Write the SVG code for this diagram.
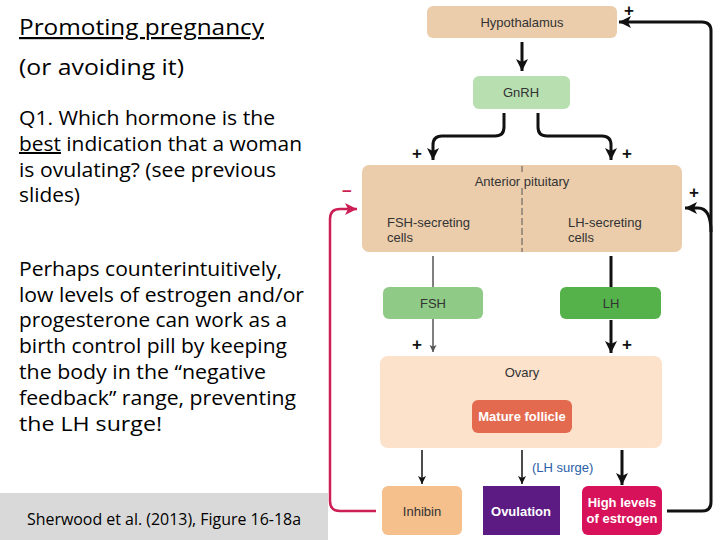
<svg xmlns="http://www.w3.org/2000/svg" width="720" height="540" viewBox="0 0 720 540">
<style>
.slide{font-family:"Open Sans","Liberation Sans",sans-serif;fill:#000}
.t{font-size:22px}
.b{font-size:20px}
.lbl{font-family:"Liberation Sans",Arial,sans-serif;font-size:13px;fill:#333;text-anchor:middle}
.lblw{font-family:"Liberation Sans",Arial,sans-serif;font-size:13px;font-weight:bold;fill:#fff;text-anchor:middle}
.plus{font-family:"Liberation Sans",Arial,sans-serif;font-size:17px;font-weight:bold;fill:#111;text-anchor:middle}
.thick{fill:none;stroke:#111;stroke-width:3}
.thin{fill:none;stroke:#111;stroke-width:1.5}
</style>
<defs>
<marker id="ah" markerUnits="userSpaceOnUse" markerWidth="14" markerHeight="14" refX="12" refY="6" orient="auto">
<path d="M0,0 L12,6 L0,12 L3,6 Z" fill="#111"/>
</marker>
<marker id="as" markerUnits="userSpaceOnUse" markerWidth="10" markerHeight="10" refX="8" refY="4" orient="auto">
<path d="M0,0 L8,4 L0,8 L2,4 Z" fill="#111"/>
</marker>
<marker id="asg" markerUnits="userSpaceOnUse" markerWidth="10" markerHeight="10" refX="7" refY="3.5" orient="auto">
<path d="M0,0 L7,3.5 L0,7 L1.5,3.5 Z" fill="#555"/>
</marker>
<marker id="ar" markerUnits="userSpaceOnUse" markerWidth="14" markerHeight="14" refX="12" refY="6" orient="auto">
<path d="M0,0 L12,6 L0,12 L3,6 Z" fill="#cc1f55"/>
</marker>
</defs>
<rect width="720" height="540" fill="#fff"/>

<g id="slide-text" class="slide">
<text class="t" x="19" y="35" textLength="245" lengthAdjust="spacingAndGlyphs" text-decoration="underline">Promoting pregnancy</text>
<text class="t" x="19" y="75" textLength="165" lengthAdjust="spacingAndGlyphs">(or avoiding it)</text>
<text class="b" x="19" y="125" textLength="256" lengthAdjust="spacingAndGlyphs">Q1. Which hormone is the</text>
<text class="b" x="19" y="151" textLength="283" lengthAdjust="spacingAndGlyphs"><tspan text-decoration="underline">best</tspan> indication that a woman</text>
<text class="b" x="19" y="177" textLength="257" lengthAdjust="spacingAndGlyphs">is ovulating? (see previous</text>
<text class="b" x="19" y="202" textLength="61" lengthAdjust="spacingAndGlyphs">slides)</text>
<text class="b" x="19" y="276" textLength="263" lengthAdjust="spacingAndGlyphs">Perhaps counterintuitively,</text>
<text class="b" x="19" y="302" textLength="285" lengthAdjust="spacingAndGlyphs">low levels of estrogen and/or</text>
<text class="b" x="19" y="327" textLength="268" lengthAdjust="spacingAndGlyphs">progesterone can work as a</text>
<text class="b" x="19" y="353" textLength="268" lengthAdjust="spacingAndGlyphs">birth control pill by keeping</text>
<text class="b" x="19" y="379" textLength="247" lengthAdjust="spacingAndGlyphs">the body in the “negative</text>
<text class="b" x="19" y="405" textLength="277" lengthAdjust="spacingAndGlyphs">feedback” range, preventing</text>
<text class="b" x="19" y="431" textLength="143" lengthAdjust="spacingAndGlyphs">the LH surge!</text>
</g>

<g id="citation">
<rect x="0" y="493" width="328" height="47" fill="#d9d9d9"/>
<text class="slide" x="27" y="525" font-size="16" textLength="274" lengthAdjust="spacingAndGlyphs">Sherwood et al. (2013), Figure 16-18a</text>
</g>

<g id="connectors">
<path class="thick" d="M522,42 V71" marker-end="url(#ah)"/>
<path class="thick" d="M504,113 V127 Q504,136 495,136 H442 Q433,136 433,145 V160" marker-end="url(#ah)"/>
<path class="thick" d="M538,113 V127 Q538,136 547,136 H602 Q611,136 611,145 V160" marker-end="url(#ah)"/>
<path d="M433,256 V287" fill="none" stroke="#555" stroke-width="1.5"/>
<path d="M433,319 V352" fill="none" stroke="#555" stroke-width="1.5" marker-end="url(#asg)"/>
<path class="thick" d="M611,256 V287"/>
<path class="thick" d="M611,320 V353" marker-end="url(#ah)"/>
<path class="thin" d="M422,450 V484" marker-end="url(#as)"/>
<path class="thin" d="M522,450 V484" marker-end="url(#as)"/>
<path class="thick" d="M622,450 V485" marker-end="url(#ah)"/>
<path fill="none" stroke="#cc1f55" stroke-width="2.5" d="M376,511 H340 Q330,511 330,501 V219 Q330,209 340,209 H357" marker-end="url(#ar)"/>
<path class="thick" d="M667,511 H702 Q711,511 711,502 V31 Q711,22 702,22 H619" marker-end="url(#ah)"/>
<path class="thick" d="M711,232 Q711,208 698,208 H685" marker-end="url(#ah)"/>
<text class="plus" x="417" y="159">+</text>
<text class="plus" x="627" y="159">+</text>
<text class="plus" x="417" y="350">+</text>
<text class="plus" x="627" y="350">+</text>
<text class="plus" x="629" y="16">+</text>
<text class="plus" x="694" y="198">+</text>
<text x="347" y="197" font-family="Liberation Sans,Arial,sans-serif" font-size="17" font-weight="bold" fill="#cc1f55" text-anchor="middle">−</text>
<text x="532" y="472" font-family="Liberation Sans,Arial,sans-serif" font-size="13" fill="#2a5ea8">(LH surge)</text>
</g>

<g id="hypothalamus">
<rect x="427" y="6" width="190" height="32" rx="6" fill="#ebcdab"/>
<text class="lbl" x="522" y="27">Hypothalamus</text>
</g>
<g id="gnrh">
<rect x="473" y="76" width="97" height="33" rx="6" fill="#b8dfb0"/>
<text class="lbl" x="521" y="97">GnRH</text>
</g>
<g id="anterior-pituitary">
<rect x="362" y="165" width="320" height="87" rx="7" fill="#ebcdab"/>
<text class="lbl" x="522" y="186">Anterior pituitary</text>
<line x1="522" y1="166" x2="522" y2="172" stroke="#555" stroke-width="1"/>
<line x1="522" y1="188" x2="522" y2="252" stroke="#555" stroke-width="1" stroke-dasharray="7 3"/>
<text class="lbl" style="text-anchor:start" x="387" y="227">FSH-secreting</text>
<text class="lbl" style="text-anchor:start" x="387" y="242">cells</text>
<text class="lbl" style="text-anchor:start" x="568" y="227">LH-secreting</text>
<text class="lbl" style="text-anchor:start" x="568" y="242">cells</text>
</g>
<g id="fsh">
<rect x="383" y="287" width="100" height="32" rx="6" fill="#8fcb86"/>
<text class="lbl" x="433" y="308">FSH</text>
</g>
<g id="lh">
<rect x="560" y="287" width="101" height="32" rx="6" fill="#55b24b"/>
<text class="lbl" x="611" y="308">LH</text>
</g>
<g id="ovary">
<rect x="380" y="356" width="282" height="92" rx="8" fill="#fce2cb"/>
<text class="lbl" x="522" y="377">Ovary</text>
</g>
<g id="mature-follicle">
<rect x="472" y="400" width="100" height="33" rx="6" fill="#e36a4f"/>
<text class="lblw" x="522" y="421">Mature follicle</text>
</g>
<g id="inhibin">
<rect x="382" y="486" width="80" height="49" rx="6" fill="#f6c08d"/>
<text class="lbl" x="422" y="516">Inhibin</text>
</g>
<g id="ovulation">
<rect x="483" y="486" width="77" height="49" fill="#5c1a83"/>
<text class="lblw" x="521" y="516">Ovulation</text>
</g>
<g id="high-estrogen">
<rect x="582" y="486" width="80" height="49" rx="6" fill="#d8125a"/>
<text class="lblw" x="622" y="507">High levels</text>
<text class="lblw" x="622" y="523">of estrogen</text>
</g>
</svg>
